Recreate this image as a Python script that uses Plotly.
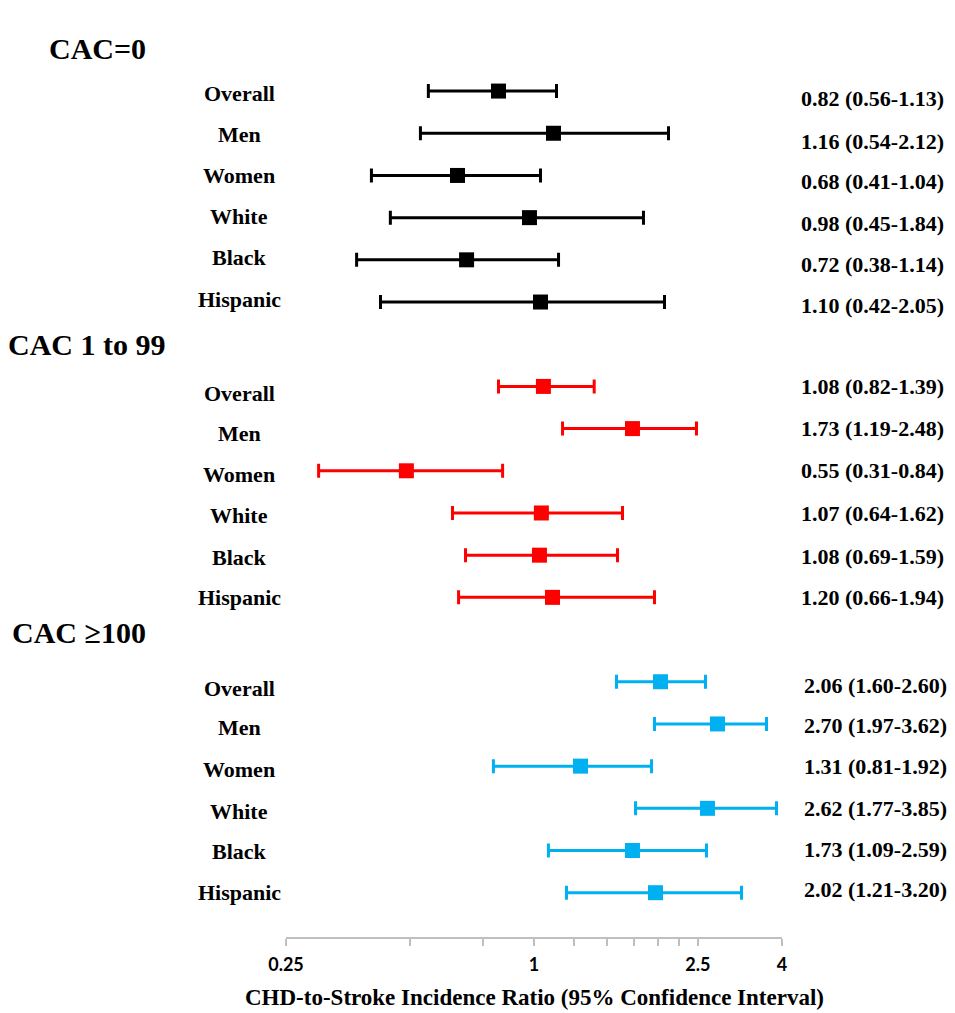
import plotly.graph_objects as go
import math

# ---------------- data ----------------
groups = ["CAC=0", "CAC 1 to 99", "CAC \u2265100"]
subgroups = ["Overall", "Men", "Women", "White", "Black", "Hispanic"]

est_cac0 = [0.82, 1.115, 0.652, 0.975, 0.686, 1.037]
lo_cac0 = [0.554, 0.530, 0.403, 0.448, 0.371, 0.424]
hi_cac0 = [1.134, 2.121, 1.037, 1.844, 1.147, 2.074]
txt_cac0 = ["0.82 (0.56-1.13)", "1.16 (0.54-2.12)", "0.68 (0.41-1.04)",
            "0.98 (0.45-1.84)", "0.72 (0.38-1.14)", "1.10 (0.42-2.05)"]

est_cac1 = [1.054, 1.734, 0.490, 1.042, 1.031, 1.109]
lo_cac1 = [0.82, 1.173, 0.300, 0.634, 0.682, 0.656]
hi_cac1 = [1.40, 2.48, 0.839, 1.640, 1.595, 1.961]
txt_cac1 = ["1.08 (0.82-1.39)", "1.73 (1.19-2.48)", "0.55 (0.31-0.84)",
            "1.07 (0.64-1.62)", "1.08 (0.69-1.59)", "1.20 (0.66-1.94)"]

est_cac100 = [2.028, 2.789, 1.297, 2.637, 1.734, 1.972]
lo_cac100 = [1.586, 1.961, 0.797, 1.764, 1.084, 1.199]
hi_cac100 = [2.608, 3.668, 1.929, 3.879, 2.623, 3.19]
txt_cac100 = ["2.06 (1.60-2.60)", "2.70 (1.97-3.62)", "1.31 (0.81-1.92)",
              "2.62 (1.77-3.85)", "1.73 (1.09-2.59)", "2.02 (1.21-3.20)"]

tick_vals = [0.25, 0.5, 0.75, 1, 1.25, 1.5, 1.75, 2, 2.25, 2.5, 4]
tick_text = ["0.25", "", "", "1", "", "", "", "", "", "2.5", "4"]
x_title = "CHD-to-Stroke Incidence Ratio (95% Confidence Interval)"

# ---------------- styling ----------------
colors = ["#000000", "#ff0000", "#00b0f0"]
serif = "Liberation Serif, Times New Roman, serif"
sans = "Lato, Carlito, Calibri, sans-serif"
header_left_px = [47, 6, 10]
header_shift = [0, 0, 7]
# small vertical offsets (px, downward) of the text labels relative to rows
left_off = [[2, 1, 0, -1, -2, -3], [7, 5, 4, 3, 2, 0], [7, 4, 3, 3, 1, 0]]
right_off = [[7, 8, 6, 6, 5, 3], [0, 0, 0, 1, 1, 0], [4, 2, 0, 0, -1, -3]]
right_left_px = [799, 799, 802]

series = [
    (est_cac0, lo_cac0, hi_cac0, txt_cac0),
    (est_cac1, lo_cac1, hi_cac1, txt_cac1),
    (est_cac100, lo_cac100, hi_cac100, txt_cac100),
]

fig = go.Figure()
annotations = []

W_plot = 496.0
def paper_x(px):
    return (px - 286.0) / W_plot

for gi, (est, lo, hi, txt) in enumerate(series):
    base = gi * 7
    rows = [base + 1 + i for i in range(len(est))]
    fig.add_trace(go.Scatter(
        x=est, y=rows, mode="markers",
        marker=dict(symbol="square", size=15, color=colors[gi]),
        error_x=dict(type="data", symmetric=False,
                     array=[h - e for h, e in zip(hi, est)],
                     arrayminus=[e - l for e, l in zip(est, lo)],
                     color=colors[gi], thickness=3, width=7),
        showlegend=False, hoverinfo="skip",
    ))
    annotations.append(dict(
        x=paper_x(header_left_px[gi]), xref="paper",
        y=base, yref="y", text="<b>%s</b>" % groups[gi], showarrow=False,
        xanchor="left", yanchor="middle", yshift=header_shift[gi],
        font=dict(family=serif, size=30, color="black")))
    for i, r in enumerate(rows):
        annotations.append(dict(
            x=paper_x(239), xref="paper", y=r, yref="y",
            text="<b>%s</b>" % subgroups[i], showarrow=False,
            xanchor="center", yanchor="middle", yshift=-left_off[gi][i],
            font=dict(family=serif, size=22, color="black")))
        annotations.append(dict(
            x=paper_x(right_left_px[gi]), xref="paper", y=r, yref="y",
            text="<b>%s</b>" % txt[i], showarrow=False,
            xanchor="left", yanchor="middle", yshift=-right_off[gi][i],
            font=dict(family=serif, size=22, color="black")))

fig.add_shape(type="line", xref="x", yref="paper", x0=0, x1=0, y0=0, y1=1,
              line=dict(color="#bfbfbf", width=1.5), layer="below")

annotations.append(dict(
    x=0.5, xref="paper", y=-0.0644, yref="paper", text="<b>%s</b>" % x_title,
    showarrow=False, xanchor="center", yanchor="middle",
    font=dict(family=serif, size=23, color="black")))

fig.update_layout(
    width=955, height=1013,
    margin=dict(l=286, r=173, t=5, b=76),
    paper_bgcolor="white", plot_bgcolor="white",
    annotations=annotations,
    hovermode=False,
    xaxis=dict(type="log", range=[math.log10(0.25), math.log10(4)],
               tickvals=tick_vals, ticktext=tick_text,
               ticks="outside", ticklen=7, tickwidth=1.5, tickcolor="#bfbfbf",
               showline=True, linecolor="#bfbfbf", linewidth=1.5,
               showgrid=False, zeroline=False, ticklabelstandoff=4,
               tickfont=dict(family=sans, size=18, color="black", weight="bold")),
    yaxis=dict(range=[21.05, -1.04], visible=False, showgrid=False,
               zeroline=False),
)

fig.write_html(
    "out.html",
    config={"displayModeBar": False},
    post_script="document.body.style.margin='0';document.body.style.overflow='hidden';",
)
